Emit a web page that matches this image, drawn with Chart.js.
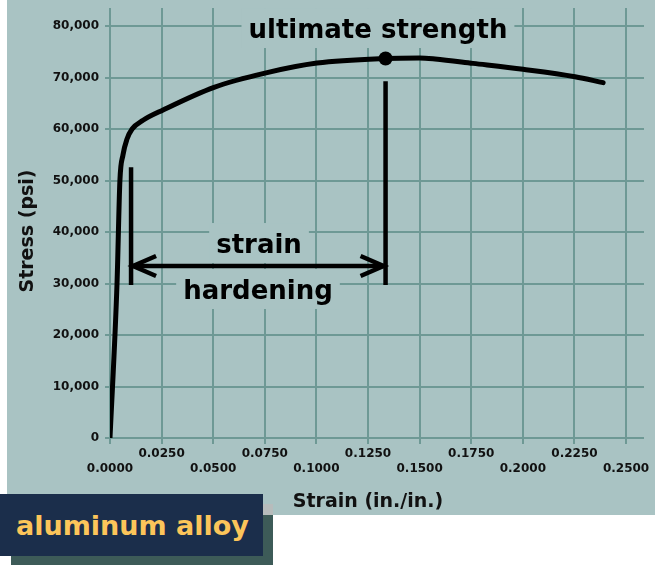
<!DOCTYPE html>
<html>
<head>
<meta charset="utf-8">
<script src="https://cdn.jsdelivr.net/npm/chart.js@4/dist/chart.umd.min.js"></script>
<style>
  body { margin: 0; width: 655px; height: 566px; position: relative; overflow: hidden; background: #fff; font-family: "DejaVu Sans", sans-serif; }
  #panel { position: absolute; left: 7px; top: 0; width: 648px; height: 515px; background: #a9c3c3; }
  #shadow { position: absolute; left: 11px; top: 504px; width: 262px; height: 61px; background: #3d5b58; }
  #shadowTop { position: absolute; left: 263px; top: 504px; width: 10px; height: 11px; background: #b7bcbc; }
  #tag { position: absolute; left: 0; top: 494px; width: 263px; height: 62px; background: #1b2e4b; }
  #tag span { position: absolute; left: 16px; top: 16px; color: #fcc55a; font-weight: bold; font-size: 27px; line-height: normal; white-space: nowrap; }
</style>
</head>
<body>
<div id="panel"><canvas id="myChart" width="648" height="515"></canvas></div>
<div id="shadow"></div>
<div id="shadowTop"></div>
<div id="tag"><span>aluminum alloy</span></div>
<script>
// courbe contrainte / déformation
const strain = [0, 0.0034, 0.0048, 0.0063, 0.0082, 0.0107, 0.0160, 0.0257, 0.0504, 0.0756, 0.1003, 0.1335, 0.1500, 0.1575, 0.1759, 0.2001, 0.2253, 0.2389];
const stress = [0, 30000, 50000, 55000, 58000, 60000, 61700, 63700, 68100, 70900, 72800, 73700, 73800, 73600, 72750, 71600, 70150, 69000];

// point de résistance ultime
const ultimateStrain = [0.1335];
const ultimateStress = [73700];

// zone d'écrouissage : début, fin / hauteur de la flèche, bas des traits, hauts des traits
const hardeningStrain = [0.0102, 0.1335];
const hardeningStress = [33400, 29700, 52600, 69300];

// textes posés sur le graphique
const labelTexts = ['ultimate strength', 'strain', 'hardening'];
const labelStrain = [0.1298, 0.0722, 0.0717];
const labelStress = [77670, 35920, 26990];

const xTickLabels = ['0.0000', '0.0250', '0.0500', '0.0750', '0.1000', '0.1250', '0.1500', '0.1750', '0.2000', '0.2250', '0.2500'];
const yTickLabels = ['0', '10,000', '20,000', '30,000', '40,000', '50,000', '60,000', '70,000', '80,000'];

const xTitle = 'Strain (in./in.)';
const yTitle = 'Stress (psi)';

const gridColor = '#6e9995';
const tickFont = { family: 'DejaVu Sans', weight: 'bold', size: 12 };

// Annotations dessinées avec les échelles du graphique
const annotate = {
    id: 'annotate',
    beforeDatasetsDraw(chart) {
        const { ctx, scales: { x, y } } = chart;
        ctx.save();
        ctx.font = 'bold 26px "DejaVu Sans"';
        ctx.textAlign = 'center';
        ctx.textBaseline = 'alphabetic';
        labelTexts.forEach((txt, i) => {
            const cx = x.getPixelForValue(labelStrain[i]);
            const by = y.getPixelForValue(labelStress[i]);
            const w = ctx.measureText(txt).width;
            ctx.fillStyle = '#a9c3c3';
            ctx.fillRect(cx - w / 2 - 7, by - 30, w + 14, 40);
            ctx.fillStyle = '#000';
            ctx.fillText(txt, cx, by);
        });
        // titres des axes
        ctx.font = 'bold 19px "DejaVu Sans"';
        ctx.fillStyle = '#111';
        ctx.fillText(xTitle, 361, 507);
        ctx.translate(21, 231);
        ctx.rotate(-Math.PI / 2);
        ctx.textBaseline = 'middle';
        ctx.fillText(yTitle, 0, 0);
        ctx.restore();
    },
    afterDatasetsDraw(chart) {
        const { ctx, scales: { x, y } } = chart;
        const x1 = x.getPixelForValue(hardeningStrain[0]);
        const x2 = x.getPixelForValue(hardeningStrain[1]);
        const ay = y.getPixelForValue(hardeningStress[0]);
        const yb = y.getPixelForValue(hardeningStress[1]);
        ctx.save();
        ctx.strokeStyle = '#000';
        ctx.lineWidth = 4.5;
        ctx.beginPath();
        // traits verticaux
        ctx.moveTo(x1, yb); ctx.lineTo(x1, y.getPixelForValue(hardeningStress[2]));
        ctx.moveTo(x2, yb); ctx.lineTo(x2, y.getPixelForValue(hardeningStress[3]));
        // flèche double
        ctx.moveTo(x1, ay); ctx.lineTo(x2, ay);
        ctx.stroke();
        ctx.beginPath();
        ctx.moveTo(x1 + 25, ay - 10); ctx.lineTo(x1 + 2, ay); ctx.lineTo(x1 + 25, ay + 10);
        ctx.moveTo(x2 - 25, ay - 10); ctx.lineTo(x2 - 2, ay); ctx.lineTo(x2 - 25, ay + 10);
        ctx.stroke();
        ctx.restore();
    }
};

const ctx = document.getElementById('myChart').getContext('2d');

const myChart = new Chart(ctx, {
    type: 'line',
    data: {
        datasets: [{
            data: strain.map((s, i) => ({ x: s, y: stress[i] })),
            borderColor: '#000',
            borderWidth: 5,
            borderCapStyle: 'round',
            borderJoinStyle: 'round',
            cubicInterpolationMode: 'monotone',
            pointRadius: 0
        }, {
            data: ultimateStrain.map((s, i) => ({ x: s, y: ultimateStress[i] })),
            showLine: false,
            pointRadius: 7,
            pointBackgroundColor: '#000',
            pointBorderWidth: 0
        }]
    },
    options: {
        responsive: false,
        animation: false,
        devicePixelRatio: 1,
        layout: { padding: { top: 8, right: 11, left: 0, bottom: 0 } },
        plugins: { legend: { display: false }, tooltip: { enabled: false } },
        scales: {
            x: {
                type: 'linear',
                bounds: 'data',
                min: 0,
                max: 0.2587,
                afterFit: s => { s.height = 77; s.paddingLeft = 0; s.paddingRight = 0; },
                afterBuildTicks: s => { s.ticks = xTickLabels.map(l => ({ value: parseFloat(l) })); },
                grid: { color: gridColor, lineWidth: 2, tickLength: 6 },
                border: { display: false },
                ticks: {
                    autoSkip: false,
                    maxRotation: 0,
                    padding: 3,
                    color: '#111',
                    font: tickFont,
                    callback: (v, i) => i % 2 ? [xTickLabels[i], ''] : ['', xTickLabels[i]]
                }
            },
            y: {
                bounds: 'data',
                min: 0,
                max: 83500,
                afterFit: s => { s.width = 103; s.paddingTop = 0; s.paddingBottom = 0; },
                afterBuildTicks: s => { s.ticks = yTickLabels.map(l => ({ value: parseFloat(l.replace(',', '')) })); },
                grid: { color: gridColor, lineWidth: 2, tickLength: 5 },
                border: { display: false },
                ticks: {
                    autoSkip: false,
                    padding: 6,
                    color: '#111',
                    font: tickFont,
                    callback: (v, i) => yTickLabels[i]
                }
            }
        }
    },
    plugins: [annotate]
});
</script>
</body>
</html>
